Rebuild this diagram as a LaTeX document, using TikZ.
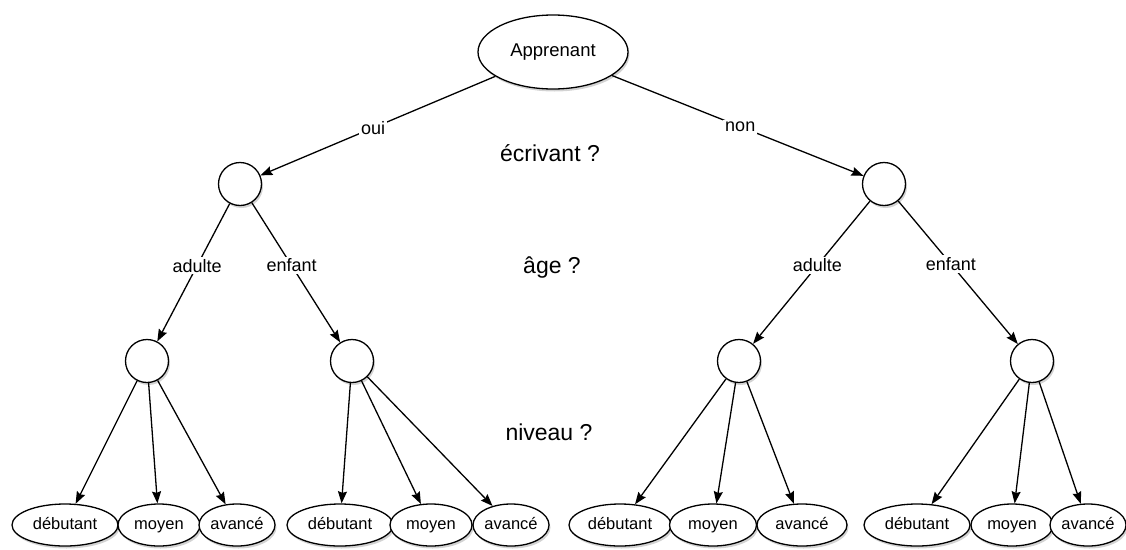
\documentclass[tikz,border=0pt]{standalone}
\usepackage{fontspec}
\setmainfont{Liberation Sans}
\usetikzlibrary{shapes.geometric,arrows.meta,shadows}
\begin{document}
\begin{tikzpicture}[x=1pt,y=-1pt,
  shad/.style={drop shadow={opacity=0.35,shadow xshift=1.5pt,shadow yshift=-2.5pt}},
  rootnode/.style={ellipse,draw,line width=1.3pt,fill=white,shad,minimum width=150pt,minimum height=74pt,inner sep=0pt,font=\fontsize{18.5}{20}\selectfont},
  qnode/.style={circle,draw,line width=1.3pt,fill=white,shad,minimum size=43pt,inner sep=0pt},
  leaf/.style={ellipse,draw,line width=1.3pt,fill=white,shad,minimum height=42pt,inner sep=0pt,text height=12pt,text depth=3.5pt,font=\fontsize{16.5}{18}\selectfont},
  dleaf/.style={leaf,minimum width=106pt},
  mleaf/.style={leaf,minimum width=82pt},
  aleaf/.style={leaf,minimum width=76pt},
  conn/.style={line width=1.3pt,-{Stealth[length=12pt,width=9pt,inset=1.5pt]}},
  elabel/.style={fill=white,inner sep=2pt,font=\fontsize{18}{20}\selectfont},
  qlabel/.style={font=\fontsize{23}{26}\selectfont}
]
\useasboundingbox (0,0) rectangle (1126,549);

\node[rootnode] (root) at (553,52) {Apprenant};
\node[qnode] (L) at (240,184) {};
\node[qnode] (R) at (884,184) {};
\node[qnode] (LA) at (147,361) {};
\node[qnode] (LE) at (352,361) {};
\node[qnode] (RA) at (739,361) {};
\node[qnode] (RE) at (1032,361) {};

\node[dleaf] (d1) at (65,525) {débutant};
\node[mleaf] (m1) at (159,525) {moyen};
\node[aleaf] (a1) at (237,525) {avancé};
\node[dleaf] (d2) at (340,525) {débutant};
\node[mleaf] (m2) at (431,525) {moyen};
\node[aleaf] (a2) at (511,525) {avancé};
\node[dleaf,minimum width=102pt] (d3) at (620,525) {débutant};
\node[mleaf,minimum width=87pt] (m3) at (713,525) {moyen};
\node[aleaf,minimum width=90pt] (a3) at (802,525) {avancé};
\node[dleaf] (d4) at (917,525) {débutant};
\node[mleaf] (m4) at (1012,525) {moyen};
\node[aleaf] (a4) at (1088,525) {avancé};

\node[qlabel] (q1) at (550,153) {écrivant ?};
\node[qlabel] (q2) at (552,268) {âge ?};
\node[qlabel] (q3) at (549,432) {niveau ?};

\draw[conn] (root) -- node[elabel,pos=0.52] (oui) {oui} (L);
\draw[conn] (root) -- node[elabel,pos=0.51] (non) {non} (R);
\draw[conn] (L) -- node[elabel,pos=0.45] (ad1) {adulte} (LA);
\draw[conn] (L) -- node[elabel,pos=0.45] (en1) {enfant} (LE);
\draw[conn] (R) -- node[elabel,pos=0.45] (ad2) {adulte} (RA);
\draw[conn] (R) -- node[elabel,pos=0.44] (en2) {enfant} (RE);

\foreach \c/\g in {LA/1,LE/2,RA/3,RE/4}{
  \draw[conn] (\c) -- (d\g);
  \draw[conn] (\c) -- (m\g);
  \draw[conn] (\c) -- (a\g);
}
\end{tikzpicture}
\end{document}
